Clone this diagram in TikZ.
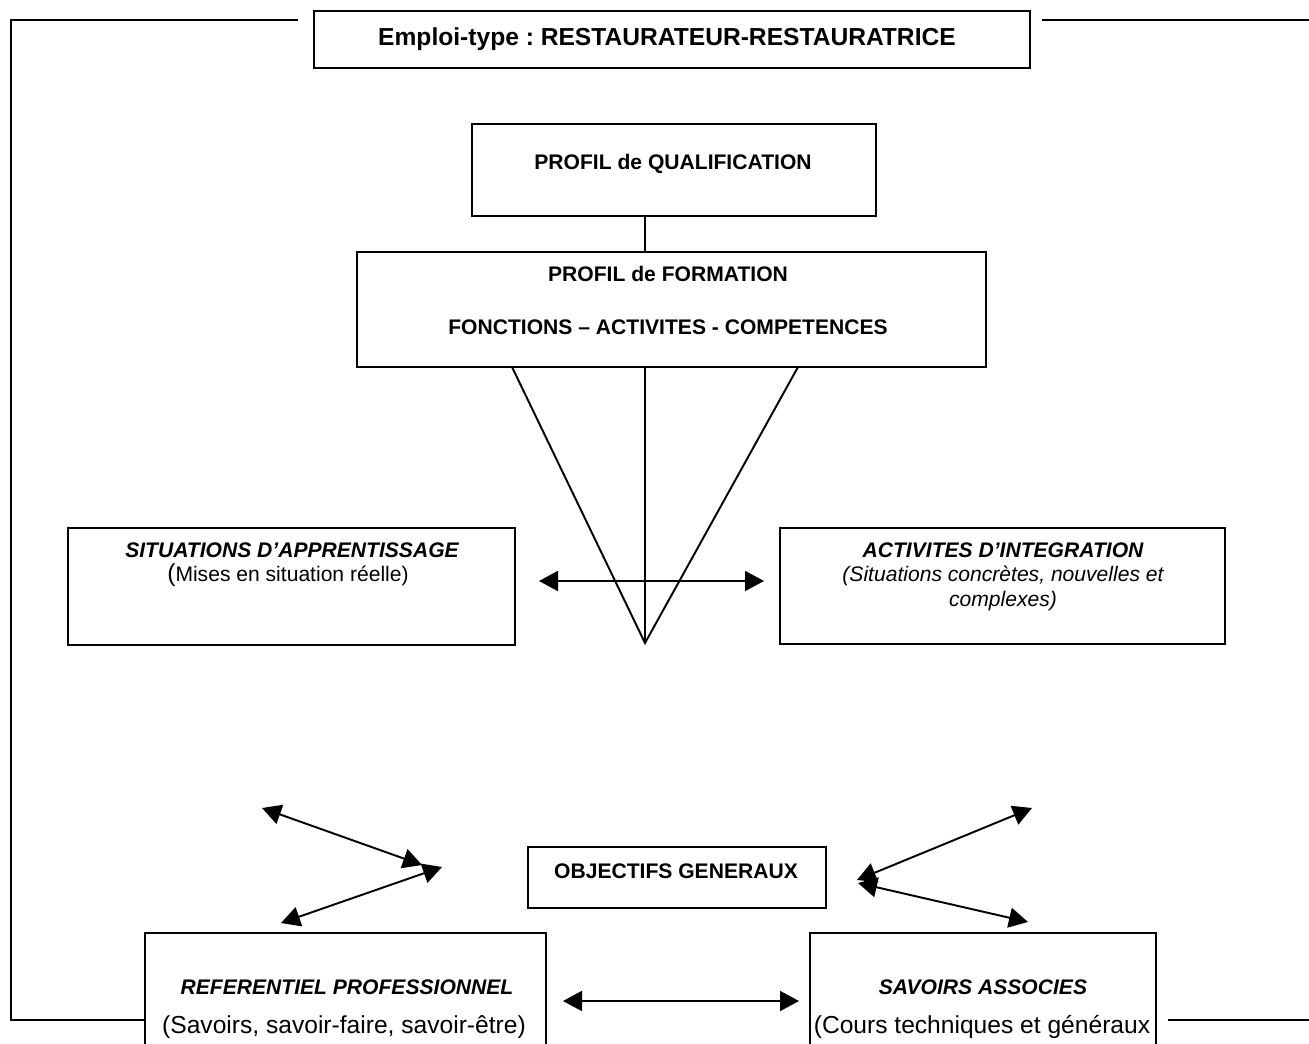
\documentclass[tikz,border=0pt]{standalone}
\usepackage{fontspec}
\setmainfont{Liberation Sans}
\usetikzlibrary{arrows.meta}
\frenchspacing
\begin{document}
\begin{tikzpicture}[x=0.02cm,y=-0.02cm,
  box/.style={draw, line width=1.1pt, inner sep=0pt},
  ln/.style={line width=1.1pt, line join=miter},
  dbl/.style={line width=1.1pt, {Triangle[length=0.38cm,width=0.4cm]}-{Triangle[length=0.38cm,width=0.4cm]}},
  t/.style={anchor=base, inner sep=0pt, font=\fontsize{12}{14}\selectfont},
  tl/.style={t, font=\fontsize{14}{16}\selectfont},
  tb/.style={t, font=\fontsize{12}{14}\selectfont\bfseries},
  tbi/.style={t, font=\fontsize{12}{14}\selectfont\bfseries\itshape},
  ti/.style={t, font=\fontsize{12}{14}\selectfont\itshape}]
\clip (0,0) rectangle (1309,1044);
\fill[white] (0,0) rectangle (1309,1044);

% boxes
\node[box, minimum width=14.32cm, minimum height=1.14cm] (title) at (672,39.5) {};
\node[box, minimum width=8.08cm, minimum height=1.84cm] (qual) at (674,170) {};
\node[box, minimum width=12.58cm, minimum height=2.30cm] (form) at (671.5,309.5) {};
\node[box, minimum width=8.94cm, minimum height=2.34cm] (sit) at (291.5,586.5) {};
\node[box, minimum width=8.90cm, minimum height=2.32cm] (act) at (1002.5,586) {};
\node[box, minimum width=5.96cm, minimum height=1.22cm] (obj) at (677,877.5) {};
\node[box, minimum width=8.02cm, minimum height=2.74cm] (ref) at (345.5,1001.5) {};
\node[box, minimum width=6.92cm, minimum height=2.74cm] (sav) at (983,1001.5) {};

% frame
\coordinate (f1) at (298,20);
\coordinate (ftl) at (11,20);
\coordinate (fbl) at (11,1020);
\coordinate (f2) at (1042,20);
\coordinate (f3) at (1309,20);
\coordinate (f4) at (1168,1020);
\coordinate (f5) at (1309,1020);
\draw[ln] (f1) -- (ftl) -- (fbl) -- (fbl -| ref.west);
\draw[ln] (f2) -- (f3);
\draw[ln] (f4) -- (f5);

% triangle and connector
\coordinate (apex) at (645,643);
\coordinate (t1) at (512,367);
\coordinate (t3) at (798,367);
\draw[ln] (qual.south -| apex) -- (form.north -| apex);
\draw[ln] (t1) -- (apex) -- (t3);
\draw[ln] (form.south -| apex) -- (apex);

% arrows
\coordinate (h1) at (539,581);
\coordinate (h2) at (764,581);
\draw[dbl] (h1) -- (h2);
\coordinate (a1) at (262,808);
\coordinate (a2) at (422,865);
\coordinate (a3) at (442,867);
\coordinate (a4) at (281,923);
\draw[dbl] (a1) -- (a2);
\draw[dbl] (a3) -- (a4);
\coordinate (b1) at (1032,808);
\coordinate (b2) at (857,880);
\coordinate (b3) at (858,883);
\coordinate (b4) at (1028,922);
\draw[dbl] (b1) -- (b2);
\draw[dbl] (b3) -- (b4);
\coordinate (c1) at (563,1001);
\coordinate (c2) at (799,1001);
\draw[dbl] (c1) -- (c2);

% texts
\node[t, font=\fontsize{14}{16}\selectfont\bfseries] (ttitle) at (667,46) {Emploi-type : RESTAURATEUR-RESTAURATRICE};
\node[tb] (tqual) at (673,169.5) {PROFIL de QUALIFICATION};
\node[tb] (tform1) at (668,281.5) {PROFIL de FORMATION};
\node[tb] (tform2) at (668,334.5) {FONCTIONS -- ACTIVITES - COMPETENCES};
\node[tbi] (tsit1) at (292,557.5) {SITUATIONS D’APPRENTISSAGE};
\node[t] (tsit2) at (288,581) {{\fontsize{14}{14}\selectfont(}Mises en situation réelle)};
\node[tbi] (tact1) at (1003,557) {ACTIVITES D’INTEGRATION};
\node[ti] (tact2) at (1003,581.5) {(Situations concrètes, nouvelles et};
\node[ti] (tact3) at (1003,606) {complexes)};
\node[tb] (tobj) at (676,878) {OBJECTIFS GENERAUX};
\node[tbi] (tref1) at (347,994.5) {REFERENTIEL PROFESSIONNEL};
\node[tl] (tref2) at (344,1033) {(Savoirs, savoir-faire, savoir-être)};
\node[tbi] (tsav1) at (983,994.5) {SAVOIRS ASSOCIES};
\node[tl] (tsav2) at (982,1033) {(Cours techniques et généraux};
\end{tikzpicture}
\end{document}
